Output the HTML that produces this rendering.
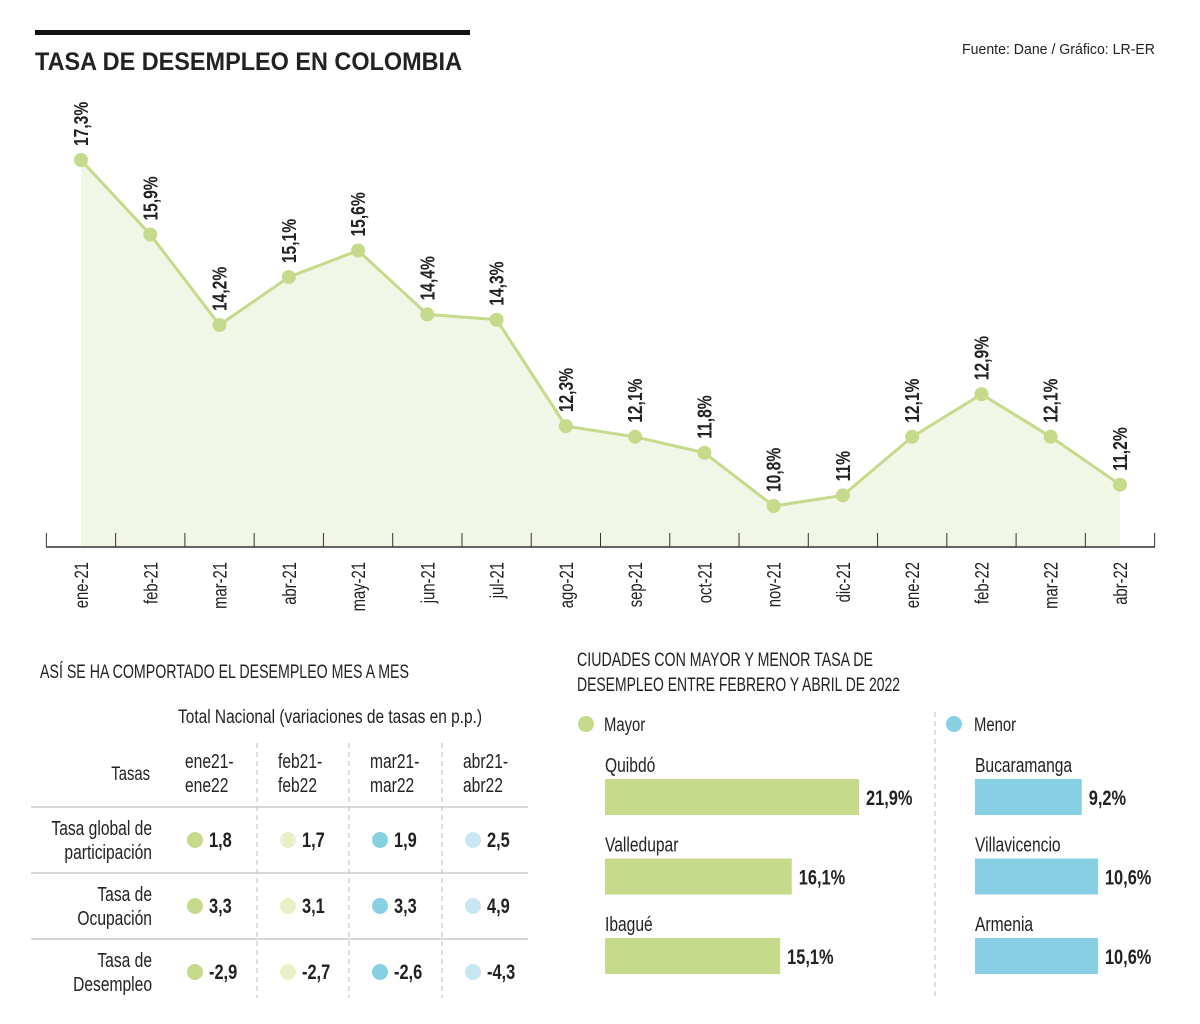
<!DOCTYPE html>
<html><head><meta charset="utf-8"><style>
body{margin:0;background:#fff}
svg{display:block}
text{font-family:"Liberation Sans Narrow","Liberation Sans",sans-serif;fill:#222}
.b{font-weight:bold}
</style></head><body>
<svg id="c" width="1200" height="1024" viewBox="0 0 1200 1024">
<rect x="35" y="30" width="435" height="5" fill="#111"/>
<text x="35" y="70" class="b" font-size="25" style="font-family:'Liberation Sans',sans-serif" textLength="427" lengthAdjust="spacingAndGlyphs">TASA DE DESEMPLEO EN COLOMBIA</text>
<text x="1155" y="54" font-size="15" text-anchor="end" fill="#444" textLength="193" lengthAdjust="spacingAndGlyphs">Fuente: Dane / Gráfico: LR-ER</text>
<g id="line"></g>
<text x="40" y="678" font-size="19" fill="#333" textLength="369" lengthAdjust="spacingAndGlyphs">ASÍ SE HA COMPORTADO EL DESEMPLEO MES A MES</text>
<text x="178" y="723" font-size="19" fill="#333" textLength="304" lengthAdjust="spacingAndGlyphs">Total Nacional (variaciones de tasas en p.p.)</text>
<g id="table"></g>
<text x="577" y="666" font-size="19" fill="#333" textLength="296" lengthAdjust="spacingAndGlyphs">CIUDADES CON MAYOR Y MENOR TASA DE</text>
<text x="577" y="691" font-size="19" fill="#333" textLength="323" lengthAdjust="spacingAndGlyphs">DESEMPLEO ENTRE FEBRERO Y ABRIL DE 2022</text>
<line x1="935" y1="712" x2="935" y2="1000" stroke="#bbb" stroke-dasharray="5,4"/>
<circle cx="586" cy="724" r="8" fill="#c5da8a"/>
<text x="604" y="731" font-size="19">Mayor</text>
<circle cx="954" cy="724" r="8" fill="#87cfe3"/>
<text x="974" y="731" font-size="19">Menor</text>
<g id="bars"></g>
</svg>
<script>
const months=["ene-21","feb-21","mar-21","abr-21","may-21","jun-21","jul-21","ago-21","sep-21","oct-21","nov-21","dic-21","ene-22","feb-22","mar-22","abr-22"];
const rates=[17.3,15.9,14.2,15.1,15.6,14.4,14.3,12.3,12.1,11.8,10.8,11,12.1,12.9,12.1,11.2];
const rateLabels=["17,3%","15,9%","14,2%","15,1%","15,6%","14,4%","14,3%","12,3%","12,1%","11,8%","10,8%","11%","12,1%","12,9%","12,1%","11,2%"];
const tableRows=["Tasa global de|participación","Tasa de|Ocupación","Tasa  de|Desempleo"];
const tableCols=["ene21-|ene22","feb21-|feb22","mar21-|mar22","abr21-|abr22"];
const tableVals=[[1.8,1.7,1.9,2.5],[3.3,3.1,3.3,4.9],[-2.9,-2.7,-2.6,-4.3]];
const mayorCities=["Quibdó","Valledupar","Ibagué"];
const mayorVals=[21.9,16.1,15.1];
const menorCities=["Bucaramanga","Villavicencio","Armenia"];
const menorVals=[9.2,10.6,10.6];

const NS="http://www.w3.org/2000/svg";
function mk(p,t,a,txt){const e=document.createElementNS(NS,t);for(const k in a)e.setAttribute(k,a[k]);if(txt!==undefined)e.textContent=txt;p.appendChild(e);return e;}
const fmt=v=>String(v).replace('.',',');
// line chart
const L=document.getElementById('line');
const x0=81,dx=(1120-81)/15;
const xS=i=>x0+i*dx;
const yS=v=>160+(17.3-v)*53.23;
const base=547;
let d=`M${xS(0)},${base}`;rates.forEach((v,i)=>d+=`L${xS(i)},${yS(v)}`);d+=`L${xS(rates.length-1)},${base}Z`;
let area=mk(L,'path',{d:d,fill:'#f1f6e6'});


let pl=mk(L,'polyline',{points:rates.map((v,i)=>xS(i)+','+yS(v)).join(' '),fill:'none',stroke:'#c5da8a','stroke-width':3});


let ax=mk(L,'line',{x1:46,y1:base,x2:1155,y2:base,stroke:'#333','stroke-width':1.5});


for(let i=0;i<=months.length;i++){
  let t=mk(L,'line',{x1:xS(i)-dx/2,y1:533,x2:xS(i)-dx/2,y2:base,stroke:'#333'});
  
  
}
months.forEach((m,i)=>{
  const x=xS(i),y=yS(rates[i]);
  let c=mk(L,'circle',{cx:x,cy:y,r:7,fill:'#c5da8a'});
  
  
  let lt=mk(L,'text',{x:0,y:0,transform:`translate(${x+7},${y-14}) rotate(-90)`,'font-size':20,class:'b'},rateLabels[i]);
  
  
  let ml=mk(L,'text',{x:0,y:0,transform:`translate(${x+7},${562}) rotate(-90)`,'font-size':19,'text-anchor':'end',fill:'#333'},m);
  
  
});
// table
const T=document.getElementById('table');
const colX=[185,278,370,463],dotC=['#c5da8a','#e8f0c8','#87cfe3','#c9e7f2'];
let th=mk(T,'text',{x:150,y:780,'font-size':19,'text-anchor':'end'},'Tasas');


tableCols.forEach((c,j)=>{
  const p=c.split('|');
  let t1=mk(T,'text',{x:colX[j],y:768,'font-size':20},p[0]);
  
  
  let t2=mk(T,'text',{x:colX[j],y:792,'font-size':20},p[1]);
  
  
});
[257,349,442].forEach(x=>{
  let l=mk(T,'line',{x1:x,y1:743,x2:x,y2:998,stroke:'#bbb','stroke-dasharray':'5,4'});
  
  
});
[807,873,939].forEach(y=>{
  let l=mk(T,'line',{x1:31,y1:y,x2:528,y2:y,stroke:'#ccc','stroke-width':1.5});
  
  
});
tableRows.forEach((r,i)=>{
  const cy=840+i*66,p=r.split('|');
  let a=mk(T,'text',{x:152,y:cy-5,'font-size':20,'text-anchor':'end'},p[0]);
  
  
  let b=mk(T,'text',{x:152,y:cy+19,'font-size':20,'text-anchor':'end'},p[1]);
  
  
  tableVals[i].forEach((v,j)=>{
    let c=mk(T,'circle',{cx:colX[j]+10,cy:cy,r:8,fill:dotC[j]});
    
    
    let t=mk(T,'text',{x:colX[j]+24,y:cy+7,'font-size':21,class:'b'},fmt(v));
    
    
  });
});
// bars
const B=document.getElementById('bars');
const bS=v=>v*11.6;
function group(names,vals,x,color,key){
  names.forEach((n,i)=>{
    const y=779+i*79.5;
    let t=mk(B,'text',{x:x,y:y-7,'font-size':20},n);
    
    
    let r=mk(B,'rect',{x:x,y:y,width:bS(vals[i]),height:36,fill:color});
    
    
    let v=mk(B,'text',{x:x+bS(vals[i])+7,y:y+26,'font-size':21,class:'b'},fmt(vals[i])+'%');
    
    
  });
}
group(mayorCities,mayorVals,605,'#c5da8a','mayor');
group(menorCities,menorVals,975,'#87cfe3','menor');
// condense text to mimic narrow font
document.querySelectorAll('#c text').forEach(t=>{
  if(t.hasAttribute('textLength'))return;
  const w=t.getComputedTextLength();
  t.setAttribute('textLength',(w*0.78).toFixed(1));
  t.setAttribute('lengthAdjust','spacingAndGlyphs');
});
</script>
</body></html>
